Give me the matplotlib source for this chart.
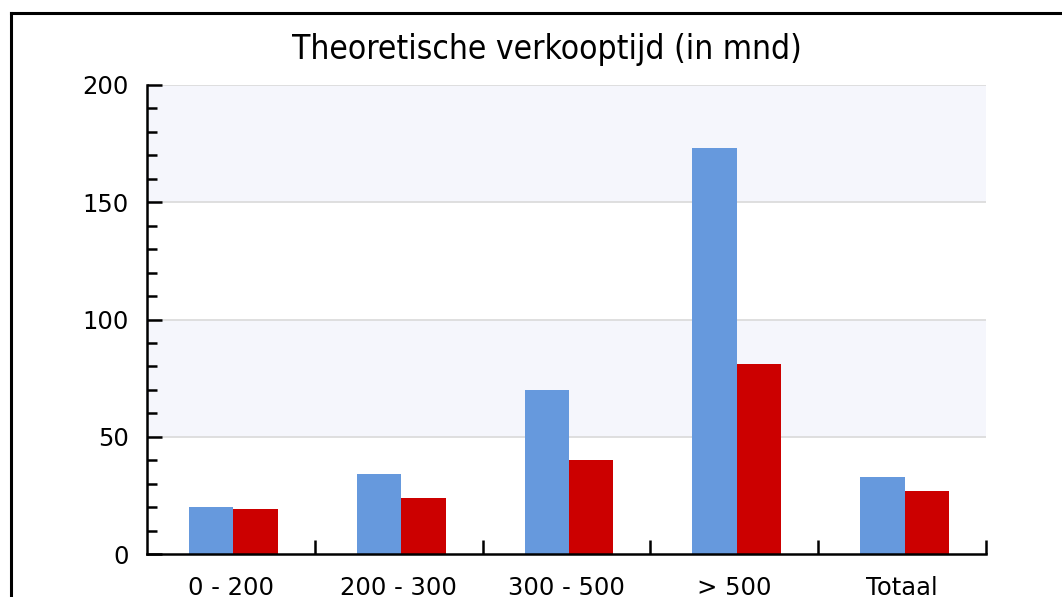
import numpy as np
import matplotlib.pyplot as plt
from matplotlib.ticker import MultipleLocator

# data
categories = ["0 - 200", "200 - 300", "300 - 500", "> 500", "Totaal"]
serie_blauw = [20, 34, 70, 173, 33]
serie_rood = [19, 24, 40, 81, 27]

fig = plt.figure(figsize=(10.62, 5.97), dpi=100)
ax = fig.add_axes([147 / 1062, 43 / 597, 839 / 1062, 469 / 597])

x = np.arange(len(categories))
w = 0.265
shift = 0.015

# banden en rasterlijnen
for lo in (50, 150):
    ax.axhspan(lo, lo + 50, color="#f5f6fc", zorder=0, lw=0)
for g in (50, 100, 150, 200):
    ax.axhline(g, color="#dcdcdc", lw=1.3, zorder=1)

ax.bar(x - w / 2 + shift, serie_blauw, w, color="#6699dd", zorder=2)
ax.bar(x + w / 2 + shift, serie_rood, w, color="#cc0000", zorder=2)

ax.set_xlim(-0.5, len(categories) - 0.5)
ax.set_ylim(0, 200)

for s in ("top", "right"):
    ax.spines[s].set_visible(False)
for s in ("left", "bottom"):
    ax.spines[s].set_linewidth(1.8)
    ax.spines[s].set_zorder(3)

ax.yaxis.set_major_locator(MultipleLocator(50))
ax.yaxis.set_minor_locator(MultipleLocator(10))
ax.tick_params(axis="y", which="major", direction="in", length=11, width=1.8,
               labelsize=17.5, pad=13)
ax.tick_params(axis="y", which="minor", direction="in", length=7, width=1.8)

ax.set_xticks(x)
ax.set_xticklabels(categories)
ax.set_xticks(list(x[1:] - 0.5) + [len(categories) - 0.5], minor=True)
ax.tick_params(axis="x", which="major", length=0, labelsize=17.5, pad=16)
ax.tick_params(axis="x", which="minor", direction="in", length=10, width=1.8)
ax.set_facecolor("white")

fig.text(0.515, 1 - 50 / 597, "Theoretische verkooptijd (in mnd)",
         ha="center", va="center", fontsize=24, fontstretch="condensed")

# kader
yt = 1 - 13 / 597
xl = 11 / 1062
fig.add_artist(plt.Line2D([xl, 1], [yt, yt], color="black", lw=2.2, transform=fig.transFigure))
fig.add_artist(plt.Line2D([xl, xl], [0, yt], color="black", lw=2.2, transform=fig.transFigure))

fig.savefig("out.png", dpi=100)
